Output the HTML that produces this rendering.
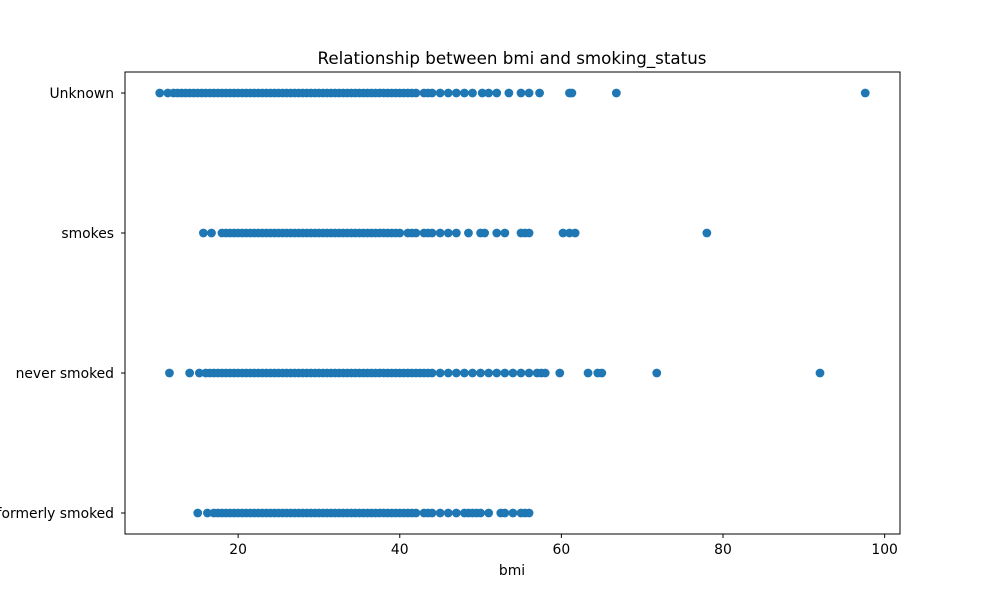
<!DOCTYPE html>
<html><head><meta charset="utf-8"><style>
body{margin:0;background:#fff;}
svg text{font-family:"DejaVu Sans","Liberation Sans",sans-serif;fill:#000;}
</style></head><body>
<svg id="chart" width="1000" height="600">
<rect width="1000" height="600" fill="#fff"/>
<text x="512" y="64" font-size="16.7" text-anchor="middle">Relationship between bmi and smoking_status</text>
<g id="marks"></g>
<rect x="125" y="72" width="775" height="462" fill="none" stroke="#000" stroke-width="1"/>
<g id="axes"></g>
<text x="512" y="575" font-size="13.9" text-anchor="middle">bmi</text>
</svg>
<script>
const categories = ["formerly smoked","never smoked","smokes","Unknown"];
const xTicks = [20,40,60,80,100];
const bmiFormerly = [15,16.2,17,17.5,18,18.5,19,19.5,20,20.5,21,21.5,22,22.5,23,23.5,24,24.5,25,25.5,26,26.5,27,27.5,28,28.5,29,29.5,30,30.5,31,31.5,32,32.5,33,33.5,34,34.5,35,35.5,36,36.5,37,37.5,38,38.5,39,39.5,40,40.5,41,41.5,42,43,43.5,44,45,46,47,48,48.5,49,49.5,50,51,52.5,53,54,55,55.5,56];
const bmiNever = [11.5,14,15.2,16,16.5,17,17.5,18,18.5,19,19.5,20,20.5,21,21.5,22,22.5,23,23.5,24,24.5,25,25.5,26,26.5,27,27.5,28,28.5,29,29.5,30,30.5,31,31.5,32,32.5,33,33.5,34,34.5,35,35.5,36,36.5,37,37.5,38,38.5,39,39.5,40,40.5,41,41.5,42,42.5,43,43.5,44,45,46,47,48,49,50,51,52,53,54,55,56,57,57.5,58,59.8,63.3,64.5,65,71.8,92];
const bmiSmokes = [15.7,16.7,18,18.5,19,19.5,20,20.5,21,21.5,22,22.5,23,23.5,24,24.5,25,25.5,26,26.5,27,27.5,28,28.5,29,29.5,30,30.5,31,31.5,32,32.5,33,33.5,34,34.5,35,35.5,36,36.5,37,37.5,38,38.5,39,39.5,40,41,41.5,42,43,43.5,44,45,46,47,48.5,50,50.5,52,53,55,55.5,56,60.2,61,61.7,78];
const bmiUnknown = [10.3,11.3,12,12.5,13,13.5,14,14.5,15,15.5,16,16.5,17,17.5,18,18.5,19,19.5,20,20.5,21,21.5,22,22.5,23,23.5,24,24.5,25,25.5,26,26.5,27,27.5,28,28.5,29,29.5,30,30.5,31,31.5,32,32.5,33,33.5,34,34.5,35,35.5,36,36.5,37,37.5,38,38.5,39,39.5,40,40.5,41,41.5,42,43,43.5,44,45,46,47,48,49,50.2,51,52,53.5,55,56,57.3,61,61.3,66.8,97.6];
const series = [bmiFormerly,bmiNever,bmiSmokes,bmiUnknown];

const NS="http://www.w3.org/2000/svg";
const X0=125,X1=900,Y0=72,Y1=534, XMIN=6.0, XMAX=101.9, YMIN=-0.15, YMAX=3.15;
const xs=v=>X0+(v-XMIN)/(XMAX-XMIN)*(X1-X0);
const ys=v=>Y1-(v-YMIN)/(YMAX-YMIN)*(Y1-Y0);
const marks=document.getElementById('marks');
series.forEach((arr,ci)=>{
  arr.forEach(v=>{
    const c=document.createElementNS(NS,'circle');
    c.setAttribute('cx',xs(v));c.setAttribute('cy',ys(ci));c.setAttribute('r',4.4);
    c.setAttribute('fill','#1f77b4');
    
    
    marks.appendChild(c);
  });
});
const axes=document.getElementById('axes');
xTicks.forEach(t=>{
  const x=xs(t);
  const l=document.createElementNS(NS,'line');
  l.setAttribute('x1',x);l.setAttribute('x2',x);l.setAttribute('y1',Y1);l.setAttribute('y2',Y1+4);l.setAttribute('stroke','#000');
  
  
  axes.appendChild(l);
  const tx=document.createElementNS(NS,'text');
  tx.setAttribute('x',x);tx.setAttribute('y',Y1+20);tx.setAttribute('font-size','13.9');tx.setAttribute('text-anchor','middle');
  tx.textContent=t;
  
  
  axes.appendChild(tx);
});
categories.forEach((c,i)=>{
  const y=ys(i);
  const l=document.createElementNS(NS,'line');
  l.setAttribute('x1',X0-4);l.setAttribute('x2',X0);l.setAttribute('y1',y);l.setAttribute('y2',y);l.setAttribute('stroke','#000');
  
  
  axes.appendChild(l);
  const tx=document.createElementNS(NS,'text');
  tx.setAttribute('x',X0-11);tx.setAttribute('y',y+5);tx.setAttribute('font-size','13.9');tx.setAttribute('text-anchor','end');
  tx.textContent=c;
  
  
  axes.appendChild(tx);
});
</script>
</body></html>
